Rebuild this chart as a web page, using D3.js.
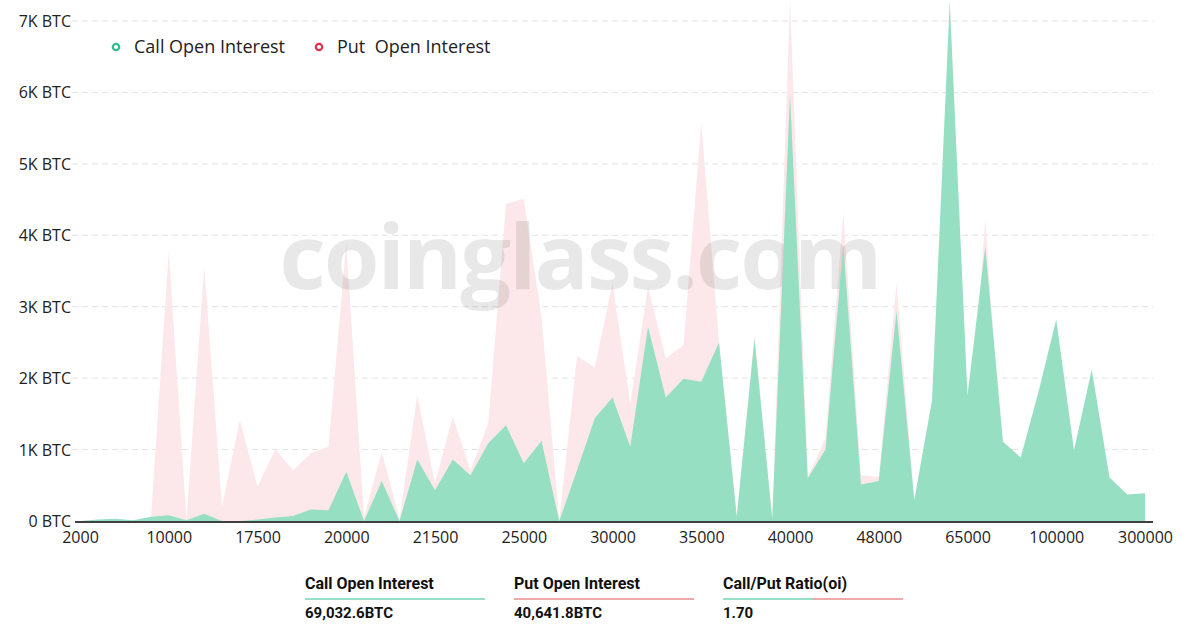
<!DOCTYPE html>
<html><head><meta charset="utf-8">
<script src="https://cdn.jsdelivr.net/npm/d3@7"></script>
<style>body{margin:0;background:#fff;font-family:"Open Sans","Noto Sans",sans-serif;}</style>
</head><body>
<svg id="c" width="1189" height="630"></svg>
<script>
const strikes = ["2000","4000","5000","6000","8000","10000","11000","12000","14000","15000","17500","18000","18500","19000","19500","20000","20500","21000","21200","21300","21500","22000","22500","23000","24000","25000","26000","27000","28000","29000","30000","31000","32000","33000","34000","35000","36000","37000","38000","39000","40000","42000","44000","45000","46000","48000","50000","55000","60000","62000","65000","70000","75000","80000","90000","100000","120000","150000","200000","250000","300000"];
const tickLabels = ["2000","10000","17500","20000","21500","25000","30000","35000","40000","48000","65000","100000","300000"];
const callOI = [0,20,30,10,60,80,10,100,0,0,20,50,70,160,150,690,0,560,0,860,430,860,640,1090,1340,810,1120,0,710,1440,1730,1040,2720,1730,1990,1950,2500,60,2550,30,5970,600,1000,3870,510,560,2940,290,1690,7280,1760,3840,1110,890,1810,2820,990,2120,610,370,390];
const putOI = [0,10,20,10,50,3770,20,3560,200,1410,480,1000,710,950,1040,3890,50,970,30,1760,530,1460,710,1370,4440,4510,2860,0,2310,2150,3330,1640,3280,2280,2460,5580,2500,60,2600,30,7300,620,1160,4320,640,620,3340,290,900,2400,800,4220,600,400,700,1100,400,900,250,150,150];
const yTicks = [0,1000,2000,3000,4000,5000,6000,7000];

const svg = d3.select("#c");
const x = d3.scalePoint().domain(strikes).range([80,1145]);
const y = d3.scaleLinear().domain([0,7000]).range([521,21]);

svg.append("g").selectAll("line").data(yTicks.slice(1)).join("line")
  .attr("x1",72).attr("x2",1153).attr("y1",d=>y(d)).attr("y2",d=>y(d))
  .attr("stroke","#e3e3e3").attr("stroke-dasharray","6,4");
svg.append("g").selectAll("text").data(yTicks).join("text")
  .attr("x",71).attr("y",d=>y(d)+6).attr("text-anchor","end")
  .attr("font-size",16).attr("fill","#222").text(d=>d===0?"0 BTC":d/1000+"K BTC");

const area = d => d3.area().x((v,i)=>x(strikes[i])).y0(y(0)).y1(v=>y(v))(d);
svg.append("path").attr("d",area(putOI)).attr("fill","#fce8ea");
svg.append("text").attr("x",580).attr("y",289).attr("text-anchor","middle")
  .attr("font-size",90).attr("font-weight","bold").attr("letter-spacing",-2).attr("fill","rgba(0,0,0,0.09)")
  .attr("font-family","Open Sans, sans-serif").text("coinglass.com");
svg.append("path").attr("d",area(callOI)).attr("fill","#97dfc2");

const xa = svg.append("g").attr("transform","translate(0,522)")
  .call(d3.axisBottom(x).tickValues(tickLabels).tickSize(0).tickPadding(10));
xa.select(".domain").attr("d","M75,0H1153").attr("stroke","#000").attr("stroke-width",1.5);
xa.selectAll("text").attr("font-size",16).attr("fill","#222").attr("font-family","Open Sans, sans-serif");

const leg = [{t:"Call Open Interest",c:"#2fbf8a",x:116},{t:"Put  Open Interest",c:"#e0314f",x:319}];
leg.forEach(l=>{
  svg.append("circle").attr("cx",l.x).attr("cy",47).attr("r",3.2).attr("fill","#fff").attr("stroke",l.c).attr("stroke-width",2.2);
  svg.append("text").attr("x",l.x+18).attr("y",53).attr("font-size",18).attr("fill","#222").attr("xml:space","preserve").text(l.t);
});

const cols = [{h:"Call Open Interest",v:"69,032.6BTC",x:305,c:["#2fbf8a","#2fbf8a"]},
  {h:"Put Open Interest",v:"40,641.8BTC",x:514,c:["#e05555","#e05555"]},
  {h:"Call/Put Ratio(oi)",v:"1.70",x:723,c:["#2fbf8a","#e05555"]}];
cols.forEach(c=>{
  svg.append("text").attr("x",c.x).attr("y",589).attr("font-size",16).attr("font-weight","bold").attr("fill","#111").attr("font-family","Roboto, sans-serif").text(c.h);
  svg.append("line").attr("x1",c.x).attr("x2",c.x+90).attr("y1",599).attr("y2",599).attr("stroke",c.c[0]);
  svg.append("line").attr("x1",c.x+90).attr("x2",c.x+180).attr("y1",599).attr("y2",599).attr("stroke",c.c[1]);
  svg.append("text").attr("x",c.x).attr("y",618).attr("font-size",15).attr("font-weight","bold").attr("fill","#111").attr("font-family","Roboto, sans-serif").text(c.v);
});
</script>
</body></html>
